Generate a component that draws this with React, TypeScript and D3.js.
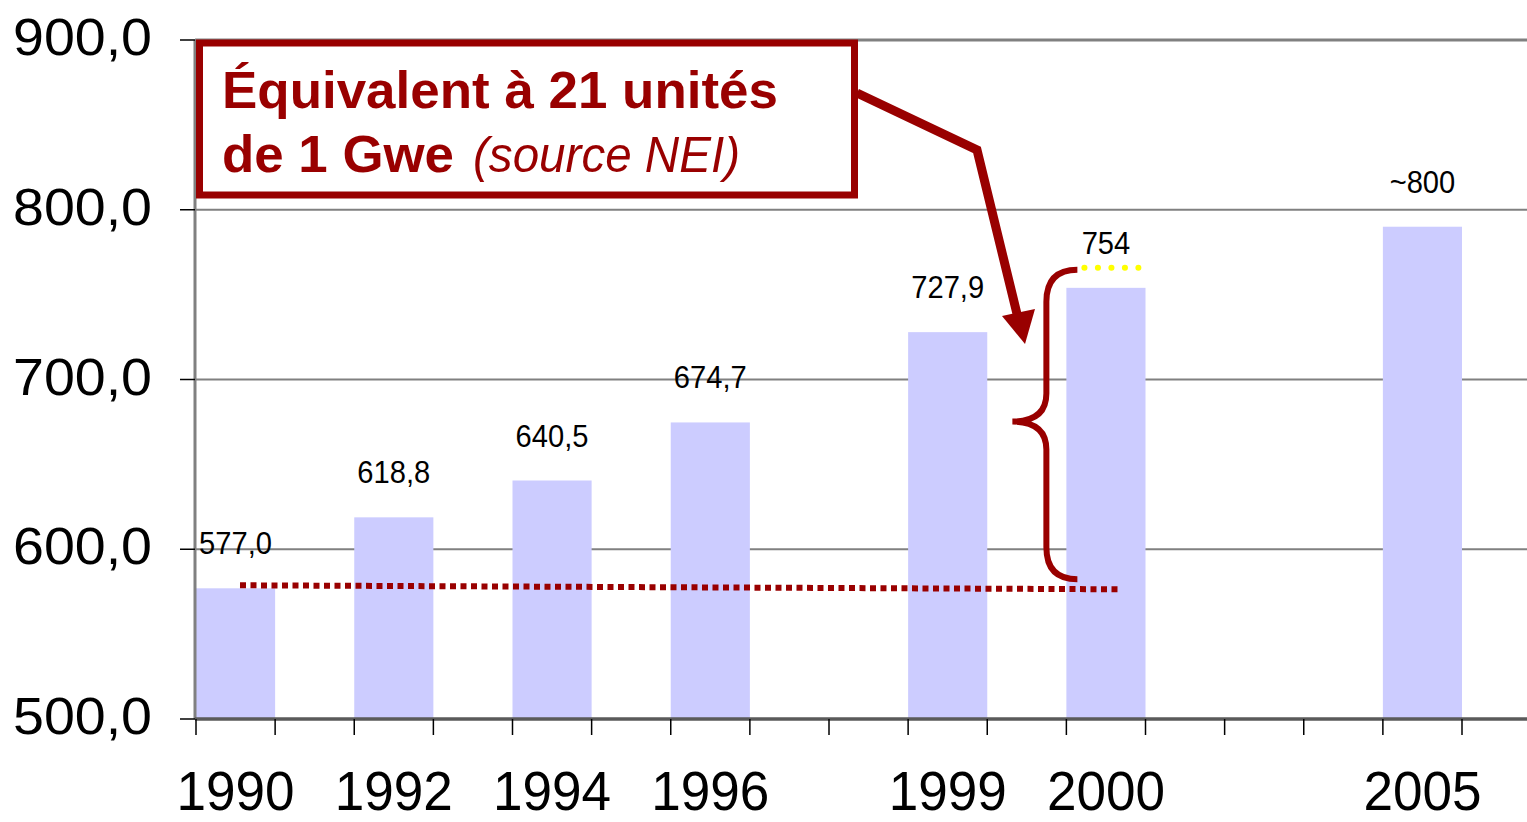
import React from 'react';
import * as d3 from 'd3';

// slots on the x axis (the original chart leaves gaps between years)
const slots = ['1990', '1991', '1992', '1993', '1994', '1995', '1996', '1997', '1998', '1999', 'gap', '2000', '2001', '2002', '2003', '2005'];
const years = ['1990', '1992', '1994', '1996', '1999', '2000', '2005'];
const values = [577.0, 618.8, 640.5, 674.7, 727.9, 754, 790];
const valueLabels = ['577,0', '618,8', '640,5', '674,7', '727,9', '754', '~800'];
const yTicks = [500, 600, 700, 800, 900];

const RED = '#990000';
const frLocale = d3.formatLocale({ decimal: ',', thousands: ' ', grouping: [3], currency: ['', ' €'] });
const fmt = frLocale.format('.1f');

// rough Arial advance widths, used to squeeze the value labels a bit
const charW = (c: string) => (c === ',' ? 0.278 : c === '~' ? 0.584 : 0.556);
const labelWidth = (s: string, size: number) => s.split('').reduce((a, c) => a + charW(c), 0) * size * 0.94;

const W = 1527;
const H = 822;
const left = 195;
const right = 1527;
const top = 40;
const bottom = 719;

const App = () => {
  const x = d3.scaleBand().domain(slots).range([left + 1, 1462]).padding(0);
  const y = d3.scaleLinear().domain([500, 900]).range([bottom, top]);
  const bw = x.bandwidth();
  const tickXs = [...slots.map((s) => x(s) as number), x.range()[1]];

  // annotation anchors derived from the data
  const y2000 = y(values[5]);
  const y1990 = y(values[0]);
  const x2000 = x('2000') as number;
  const braceTop = y2000 - 18;
  const braceBot = y1990 - 9;
  const braceX = x2000 - 20;
  const braceMid = (braceTop + braceBot) / 2 - 3;
  const bracePath = [
    `M${x2000 + 11},${braceTop}`,
    `Q${braceX},${braceTop} ${braceX},${braceTop + 32}`,
    `L${braceX},${braceMid - 28}`,
    `Q${braceX},${braceMid} ${braceX - 34},${braceMid}`,
    `Q${braceX},${braceMid} ${braceX},${braceMid + 28}`,
    `L${braceX},${braceBot - 32}`,
    `Q${braceX},${braceBot} ${x2000 + 11},${braceBot}`,
  ].join(' ');

  return (
    <svg width={W} height={H} style={{ position: 'absolute', left: 0, top: 0, background: '#fff' }}
      fontFamily="'Liberation Sans', Arial, sans-serif">
      {/* gridlines */}
      {yTicks.slice(1).map((t) => (
        <line key={t} x1={left} x2={right} y1={y(t)} y2={y(t)} stroke="#808080" strokeWidth={t === 900 ? 3 : 2} />
      ))}

      {/* bars */}
      {years.map((yr, i) => (
        <rect key={yr} x={x(yr)} y={y(values[i])} width={bw} height={bottom - y(values[i])} fill="#ccccff" />
      ))}

      {/* axes */}
      <line x1={left} x2={left} y1={top} y2={bottom} stroke="#808080" strokeWidth={3} />
      <line x1={left} x2={right} y1={bottom} y2={bottom} stroke="#5a5a5a" strokeWidth={3.5} />
      {yTicks.map((t) => (
        <g key={t}>
          <line x1={180} x2={left} y1={y(t)} y2={y(t)} stroke="#000" strokeWidth={1.5} />
          <text x={152} y={y(t) + 15} textAnchor="end" fontSize={52} fill="#000"
            textLength={139} lengthAdjust="spacingAndGlyphs">{fmt(t)}</text>
        </g>
      ))}
      {tickXs.map((tx, i) => (
        <line key={i} x1={tx} x2={tx} y1={bottom} y2={bottom + 16} stroke="#000" strokeWidth={1.5} />
      ))}
      {years.map((yr) => (
        <text key={yr} x={(x(yr) as number) + bw / 2} y={810} textAnchor="middle" fontSize={55}
          textLength={118} lengthAdjust="spacingAndGlyphs" fill="#000">{yr}</text>
      ))}

      {/* value labels */}
      {years.map((yr, i) => (
        <text key={yr} x={(x(yr) as number) + bw / 2} y={y(values[i]) - 34} textAnchor="middle" fontSize={31}
          textLength={labelWidth(valueLabels[i], 31)} lengthAdjust="spacingAndGlyphs" fill="#000">
          {valueLabels[i]}
        </text>
      ))}

      {/* dotted reference line at 1990 level */}
      <line x1={left + 45} x2={x2000 + 53} y1={y1990 - 3} y2={y1990 + 1} stroke={RED} strokeWidth={6} strokeDasharray="6,4.5" />

      {/* yellow dotted cap on 2000 */}
      <line x1={x2000 + 18} x2={x2000 + 72} y1={braceTop - 2} y2={braceTop - 2} stroke="#ffff00" strokeWidth={6}
        strokeLinecap="round" strokeDasharray="0.1,13.4" />

      {/* brace */}
      <path d={bracePath} fill="none" stroke={RED} strokeWidth={6} />

      {/* callout arrow */}
      <polyline points="857,93 977,150 1018,318" fill="none" stroke={RED} strokeWidth={9} strokeLinejoin="miter" />
      <polygon points="1002,316 1035,309 1025,344" fill={RED} />

      {/* callout box */}
      <rect x={199.5} y={43} width={655} height={152} fill="#fff" stroke={RED} strokeWidth={7} />
      <text x={222} y={108} fontSize={52} fontWeight="bold" fill={RED} textLength={556} lengthAdjust="spacingAndGlyphs">
        Équivalent à 21 unités
      </text>
      <text x={222} y={172} fontSize={52} fontWeight="bold" fill={RED} textLength={232} lengthAdjust="spacingAndGlyphs">
        de 1 Gwe
      </text>
      <text x={473} y={172} fontSize={50} fontStyle="italic" fill={RED} textLength={267} lengthAdjust="spacingAndGlyphs">
        (source NEI)
      </text>
    </svg>
  );
};

export default App;
